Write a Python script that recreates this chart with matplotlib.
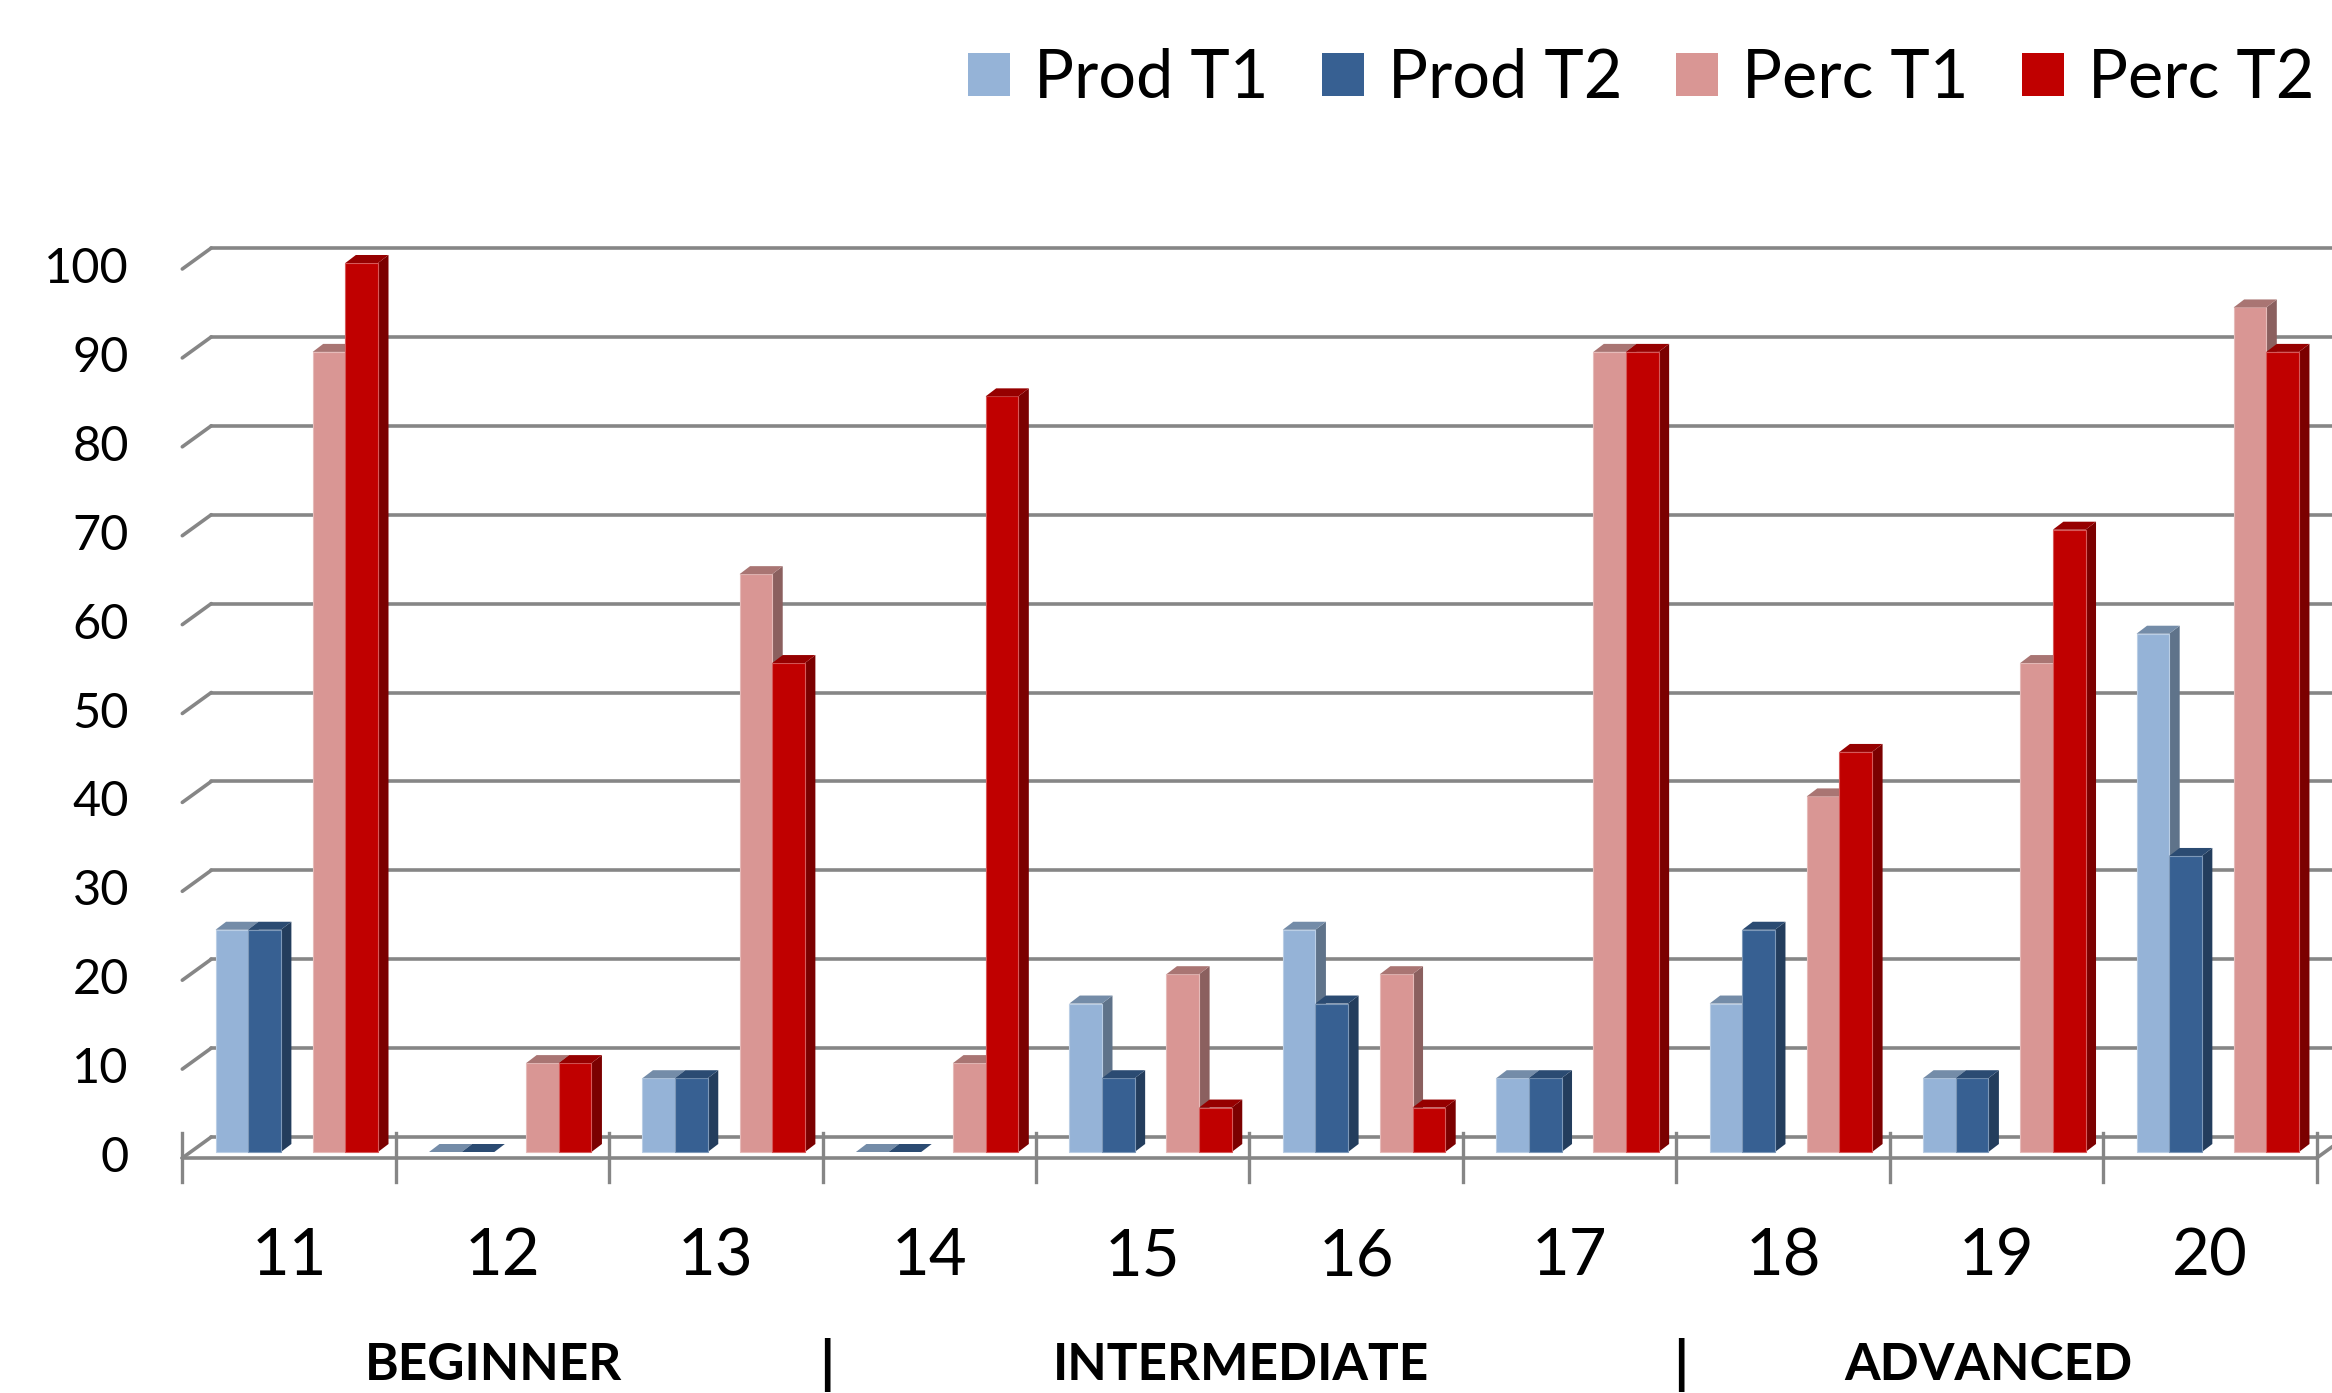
import matplotlib
matplotlib.use("Agg")
import matplotlib.pyplot as plt
from matplotlib.patches import Polygon, Patch
from matplotlib.colors import to_rgb

# ---------------- data ----------------
categories = ["11", "12", "13", "14", "15", "16", "17", "18", "19", "20"]
prod_t1 = [25, 0, 8.3, 0, 16.7, 25, 8.3, 16.7, 8.3, 58.3]
prod_t2 = [25, 0, 8.3, 0, 8.3, 16.7, 8.3, 25, 8.3, 33.3]
perc_t1 = [90, 10, 65, 10, 20, 20, 90, 40, 55, 95]
perc_t2 = [100, 10, 55, 85, 5, 5, 90, 45, 70, 90]
series_names = ["Prod T1", "Prod T2", "Perc T1", "Perc T2"]
y_ticks = [0, 10, 20, 30, 40, 50, 60, 70, 80, 90, 100]
level_names = ["BEGINNER", "INTERMEDIATE", "ADVANCED"]
level_sizes = [3, 4, 3]

# ---------------- style ----------------
colors = ["#95B3D7", "#376092", "#D99694", "#C00000"]
grid_c = "#868686"
FONT = ["Lato", "DejaVu Sans"]
plt.rcParams["font.family"] = FONT

W, H, DPI = 23.32, 13.93, 100
fig = plt.figure(figsize=(W, H), dpi=DPI)
fig.patch.set_facecolor("white")
ax = fig.add_axes([182.3 / 2332, (1393 - 1158) / 1393, 2134.4 / 2332, 889 / 1393])
ax.set_xlim(0, len(categories))
ax.set_ylim(0, 100)
ax.axis("off")

# pseudo-3D geometry (in data units)
px_x = 2134.4 / len(categories)   # pixels per category
px_y = 889 / 100.0                # pixels per value unit
wall_dx, wall_dy = 29 / px_x, 21 / px_y
plane_dx, plane_dy = 8.3 / px_x, 6 / px_y
bar_dx, bar_dy = 10.5 / px_x, 8 / px_y
bar_w = 0.153
bar_left = [0.117, 0.117 + bar_w, 0.572, 0.572 + bar_w]

gl_kw = dict(color=grid_c, lw=2.6, solid_capstyle="round", clip_on=False, zorder=1)

# back wall gridlines with side-wall diagonals
n = len(categories)
for v in y_ticks:
    ax.plot([wall_dx, n + wall_dx + 1], [v + wall_dy, v + wall_dy], **gl_kw)
    ax.plot([0, wall_dx], [v, v + wall_dy], **gl_kw)
    ax.text(-0.25, v, str(v), ha="right", va="center", fontsize=35, family=FONT)

# floor front edge, right edge, ticks
ax.plot([0, n], [0, 0], **gl_kw)
ax.plot([n, n + wall_dx], [0, wall_dy], **gl_kw)
for k in range(n + 1):
    ax.plot([k, k], [2.78, -2.67], color=grid_c, lw=2.4, clip_on=False, zorder=1)


def shade(c, f):
    r, g, b = to_rgb(c)
    return (r * f, g * f, b * f)


def light(c, f):
    r, g, b = to_rgb(c)
    return (r + (1 - r) * f, g + (1 - g) * f, b + (1 - b) * f)


series = [prod_t1, prod_t2, perc_t1, perc_t2]
z = 2
for i in range(n):
    for s, vals in enumerate(series):
        v = vals[i]
        x0 = i + bar_left[s] + plane_dx
        x1 = x0 + bar_w
        y0 = plane_dy
        y1 = v + plane_dy
        c = colors[s]
        if v > 0:
            front = Polygon([(x0, y0), (x1, y0), (x1, y1), (x0, y1)], closed=True,
                            facecolor=c, edgecolor=light(c, 0.35), lw=0.8,
                            clip_on=False, zorder=z)
            side = Polygon([(x1, y0), (x1 + bar_dx, y0 + bar_dy),
                            (x1 + bar_dx, y1 + bar_dy), (x1, y1)], closed=True,
                           facecolor=shade(c, 0.64), edgecolor="none",
                           clip_on=False, zorder=z)
            ax.add_patch(side)
            ax.add_patch(front)
        top = Polygon([(x0, y1), (x1, y1), (x1 + bar_dx, y1 + bar_dy),
                       (x0 + bar_dx, y1 + bar_dy)], closed=True,
                      facecolor=shade(c, 0.78), edgecolor="none",
                      clip_on=False, zorder=z)
        ax.add_patch(top)
        z += 0.01

# category labels
for i, lab in enumerate(categories):
    ax.text(i + 0.5, -11.1, lab, ha="center", va="center", fontsize=47, family=FONT)

# level labels with separators
start = 0
for j, (name, size) in enumerate(zip(level_names, level_sizes)):
    ax.text(start + size / 2 - 0.04, -23.3, name, ha="center", va="center",
            fontsize=37, fontweight="bold", family=FONT)
    start += size
    if j < len(level_names) - 1:
        ax.text(start + 0.02, -23.3, "|", ha="center", va="center",
                fontsize=42, fontweight="bold", family=FONT)

# legend
handles = [Patch(facecolor=c, edgecolor="none") for c in colors]
fig.legend(handles, series_names, loc="center right",
           bbox_to_anchor=(2314 / 2332, 1 - 79 / 1393), ncol=4, frameon=False,
           fontsize=48, handlelength=0.63, handleheight=0.63, handletextpad=0.36,
           columnspacing=0.8, borderpad=0, borderaxespad=0)

fig.savefig("out.png", dpi=DPI, facecolor="white")
